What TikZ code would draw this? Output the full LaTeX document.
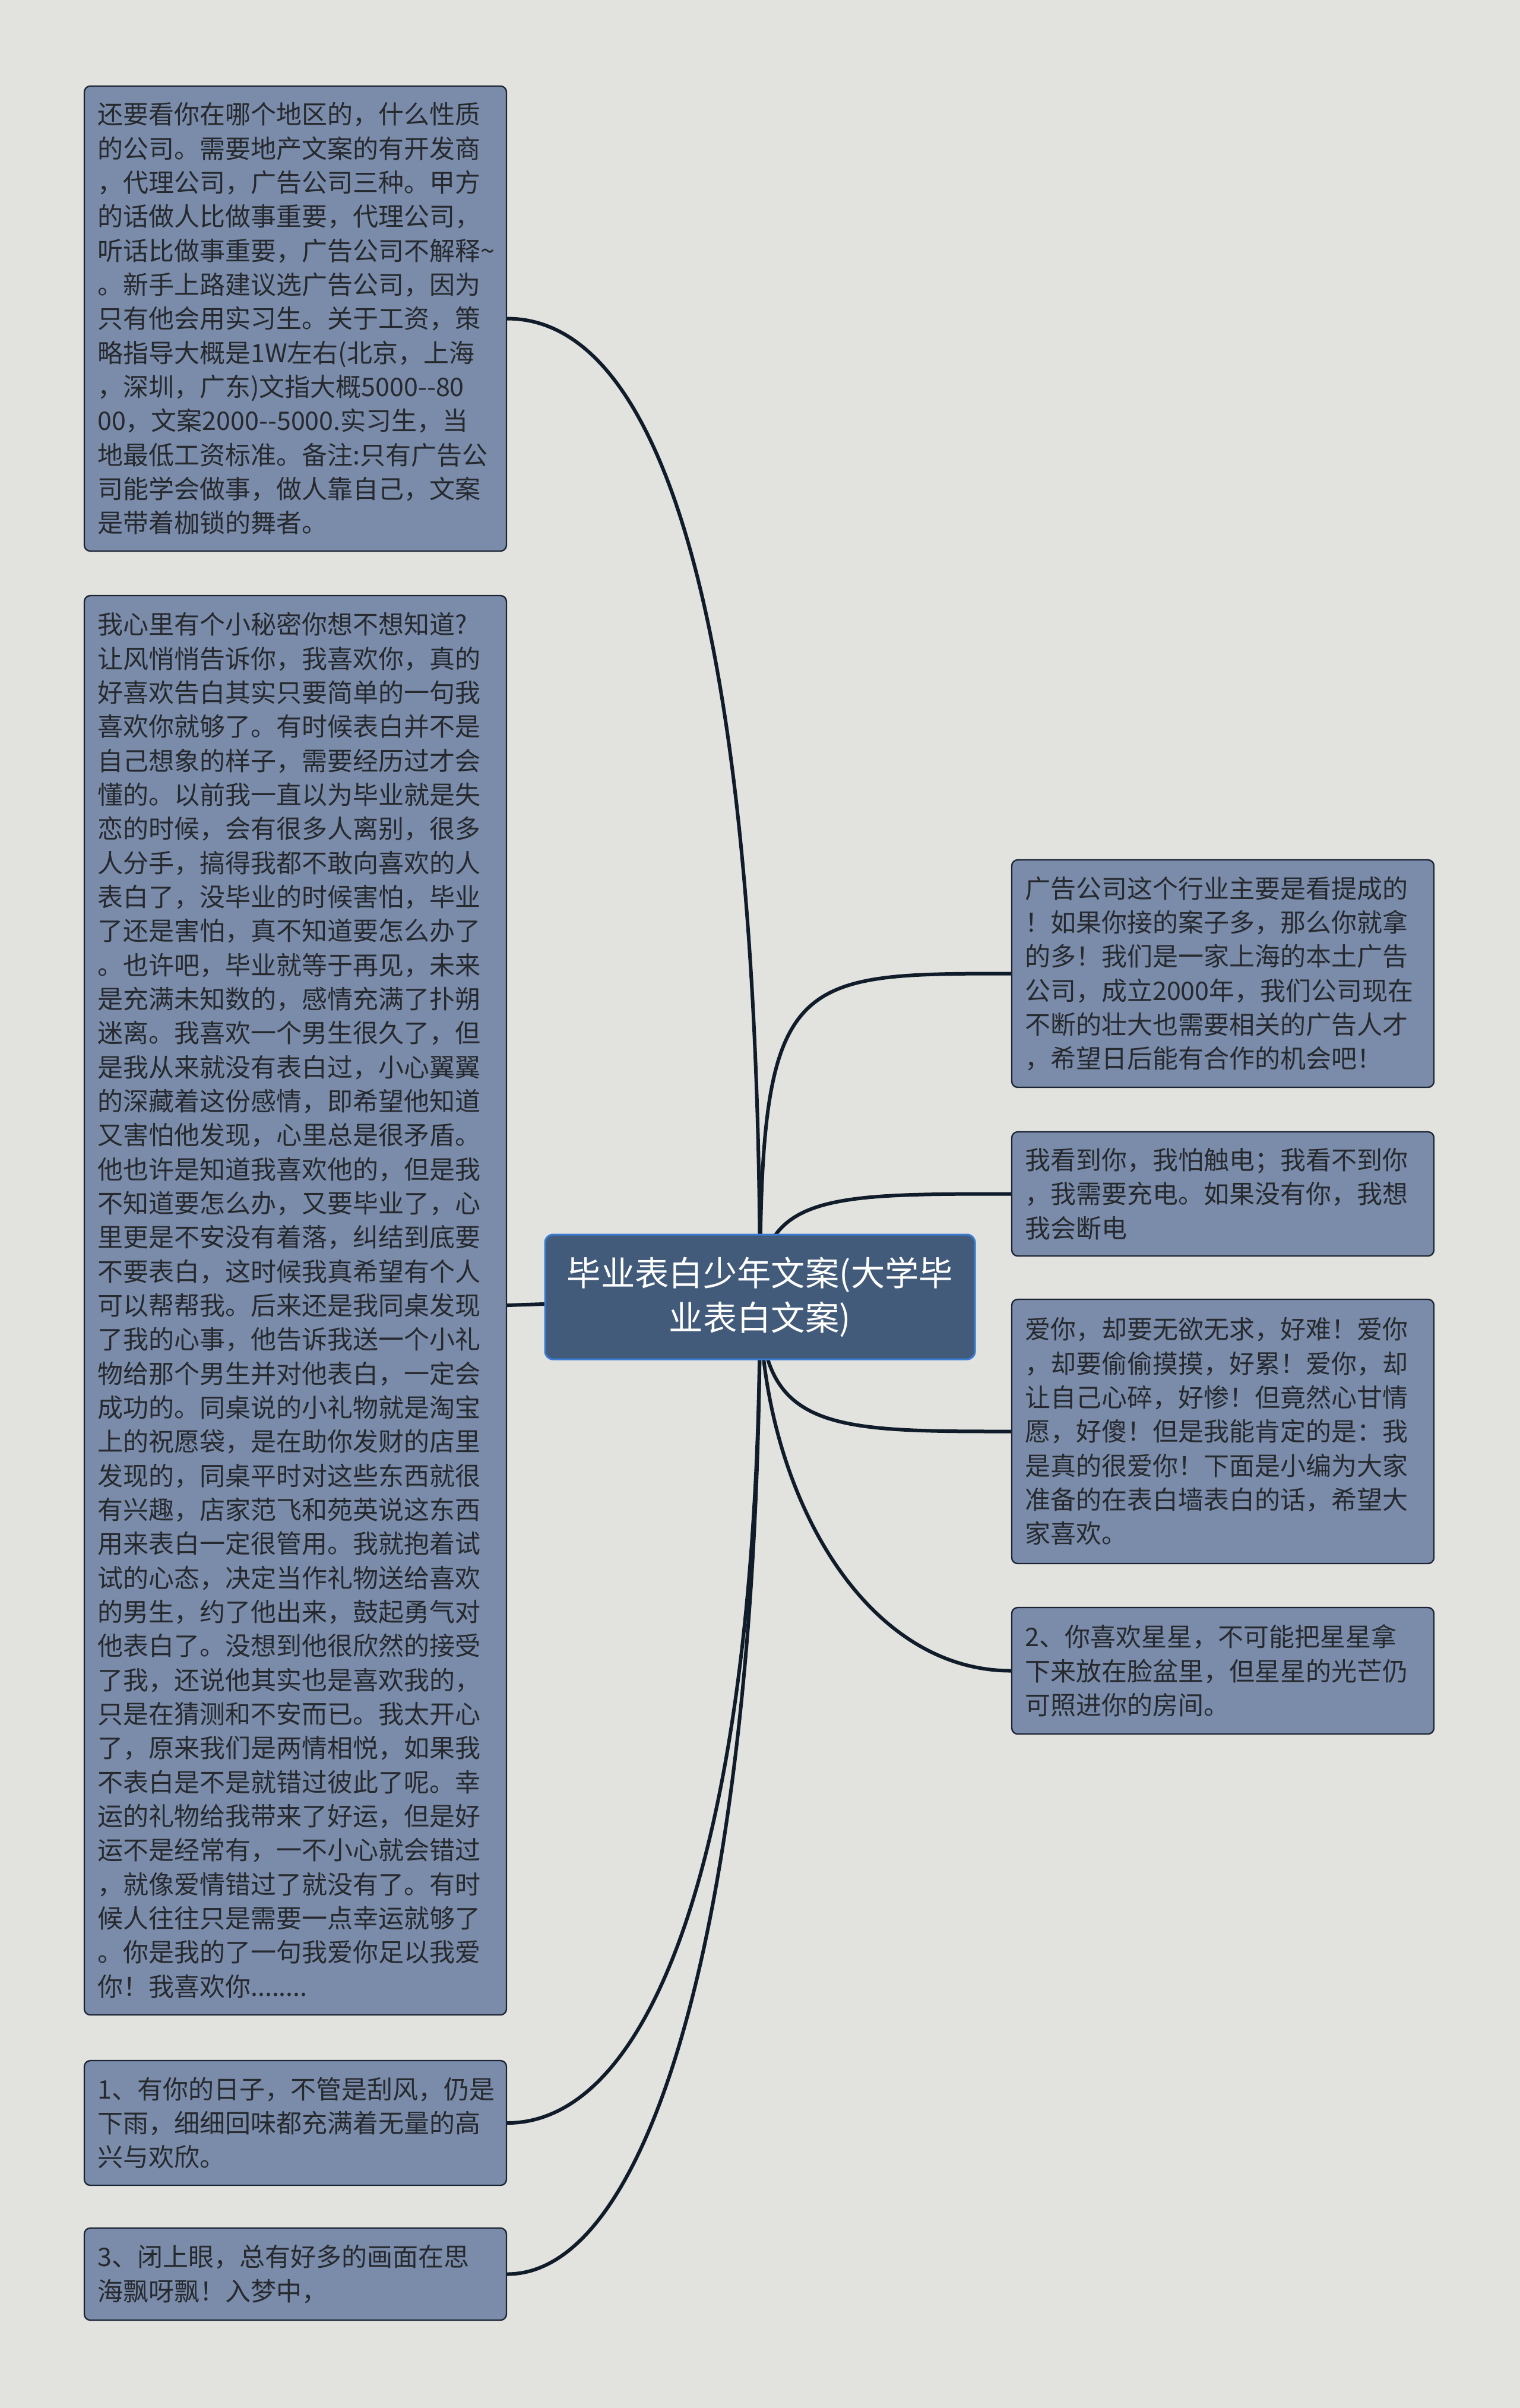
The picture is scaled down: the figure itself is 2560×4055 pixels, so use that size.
\documentclass[tikz,border=0pt]{standalone}
\usepackage{fontspec}
\newfontfamily\cjkfont{Noto Sans CJK SC}
\usepackage{tikz}
\usetikzlibrary{calc}

\pgfdeclarelayer{edgelayer}
\pgfsetlayers{edgelayer,main}

\definecolor{pagebg}{HTML}{E2E2DE}
\definecolor{leaffill}{HTML}{7A8CAA}
\definecolor{leafline}{HTML}{1C2433}
\definecolor{leaftext}{HTML}{26292E}
\definecolor{rootfill}{HTML}{435B7A}
\definecolor{rootline}{HTML}{3A7BD5}
\definecolor{branchcol}{HTML}{111C2B}

\tikzset{
  leafbox/.style={draw=leafline, fill=leaffill, line width=0.7pt, rounded corners=3pt,
    text=leaftext, align=left, text width=200pt, inner xsep=6.6pt, inner ysep=0pt,
    minimum width=213.3pt, font=\cjkfont\fontsize{12.9pt}{17.2pt}\selectfont},
  rootbox/.style={draw=rootline, fill=rootfill, line width=0.9pt, rounded corners=4pt,
    text=white, align=center, minimum width=217.2pt, minimum height=63pt,
    font=\cjkfont\fontsize{17.2pt}{22.5pt}\selectfont},
  branch/.style={draw=branchcol, line width=1.8pt, line cap=round}
}

\begin{document}
\begin{tikzpicture}[x=0.3pt,y=0.3pt,yscale=-1,xscale=1]
  %Root
  \node[rootbox] (root) at (1280,2184) {毕业表白少年文案(大学毕\\业表白文案)};

  %Left side
  \node[leafbox, minimum height=234.9pt] (L1) at (497.5,536.5) {还要看你在哪个地区的，什么性质\\的公司。需要地产文案的有开发商\\，代理公司，广告公司三种。甲方\\的话做人比做事重要，代理公司，\\听话比做事重要，广告公司不解释\textasciitilde\\。新手上路建议选广告公司，因为\\只有他会用实习生。关于工资，策\\略指导大概是1W左右(北京，上海\\，深圳，广东)文指大概5000-{}-80\\00，文案2000-{}-5000.实习生，当\\地最低工资标准。备注:只有广告公\\司能学会做事，做人靠自己，文案\\是带着枷锁的舞者。};
  \node[leafbox, minimum height=717pt] (L2) at (497.5,2198) {我心里有个小秘密你想不想知道?\\让风悄悄告诉你，我喜欢你，真的\\好喜欢告白其实只要简单的一句我\\喜欢你就够了。有时候表白并不是\\自己想象的样子，需要经历过才会\\懂的。以前我一直以为毕业就是失\\恋的时候，会有很多人离别，很多\\人分手，搞得我都不敢向喜欢的人\\表白了，没毕业的时候害怕，毕业\\了还是害怕，真不知道要怎么办了\\。也许吧，毕业就等于再见，未来\\是充满未知数的，感情充满了扑朔\\迷离。我喜欢一个男生很久了，但\\是我从来就没有表白过，小心翼翼\\的深藏着这份感情，即希望他知道\\又害怕他发现，心里总是很矛盾。\\他也许是知道我喜欢他的，但是我\\不知道要怎么办，又要毕业了，心\\里更是不安没有着落，纠结到底要\\不要表白，这时候我真希望有个人\\可以帮帮我。后来还是我同桌发现\\了我的心事，他告诉我送一个小礼\\物给那个男生并对他表白，一定会\\成功的。同桌说的小礼物就是淘宝\\上的祝愿袋，是在助你发财的店里\\发现的，同桌平时对这些东西就很\\有兴趣，店家范飞和苑英说这东西\\用来表白一定很管用。我就抱着试\\试的心态，决定当作礼物送给喜欢\\的男生，约了他出来，鼓起勇气对\\他表白了。没想到他很欣然的接受\\了我，还说他其实也是喜欢我的，\\只是在猜测和不安而已。我太开心\\了，原来我们是两情相悦，如果我\\不表白是不是就错过彼此了呢。幸\\运的礼物给我带来了好运，但是好\\运不是经常有，一不小心就会错过\\，就像爱情错过了就没有了。有时\\候人往往只是需要一点幸运就够了\\。你是我的了一句我爱你足以我爱\\你！我喜欢你........};
  \node[leafbox, minimum height=63pt] (L3) at (497.5,3575) {1、有你的日子，不管是刮风，仍是\\下雨，细细回味都充满着无量的高\\兴与欢欣。};
  \node[leafbox, minimum height=46.5pt] (L4) at (497.5,3829.5) {3、闭上眼，总有好多的画面在思\\海飘呀飘！入梦中，};

  %Right side
  \node[leafbox, minimum height=114.9pt] (R1) at (2059.5,1639.5) {广告公司这个行业主要是看提成的\\！如果你接的案子多，那么你就拿\\的多！我们是一家上海的本土广告\\公司，成立2000年，我们公司现在\\不断的壮大也需要相关的广告人才\\，希望日后能有合作的机会吧！};
  \node[leafbox, minimum height=62.7pt] (R2) at (2059.5,2010.5) {我看到你，我怕触电；我看不到你\\，我需要充电。如果没有你，我想\\我会断电};
  \node[leafbox, minimum height=133.5pt] (R3) at (2059.5,2410.5) {爱你，却要无欲无求，好难！爱你\\，却要偷偷摸摸，好累！爱你，却\\让自己心碎，好惨！但竟然心甘情\\愿，好傻！但是我能肯定的是：我\\是真的很爱你！下面是小编为大家\\准备的在表白墙表白的话，希望大\\家喜欢。};
  \node[leafbox, minimum height=63.9pt] (R4) at (2059.5,2813.5) {2、你喜欢星星，不可能把星星拿\\下来放在脸盆里，但星星的光芒仍\\可照进你的房间。};

  \begin{pgfonlayer}{edgelayer}
    \fill[pagebg] (0,0) rectangle (2560,4055);
    %Curve Lines to the left
    \draw[branch] (root.center) .. controls +(0,-1184) and +(247,0) .. (L1.east);
    \draw[branch] (root.center) -- (L2.east);
    \draw[branch] (root.center) .. controls +(0,916) and +(247,0) .. (L3.east);
    \draw[branch] (root.center) .. controls +(0,1016) and +(247,0) .. (L4.east);
    %Curve Lines to the right
    \draw[branch] (root.center) .. controls +(0,-544) and +(-374,0) .. (R1.west);
    \draw[branch] (root.center) .. controls +(0,-174) and +(-304,0) .. (R2.west);
    \draw[branch] (root.center) .. controls +(0,226) and +(-304,0) .. (R3.west);
    \draw[branch] (root.center) .. controls +(0,316) and +(-254,0) .. (R4.west);
  \end{pgfonlayer}
\end{tikzpicture}
\end{document}
